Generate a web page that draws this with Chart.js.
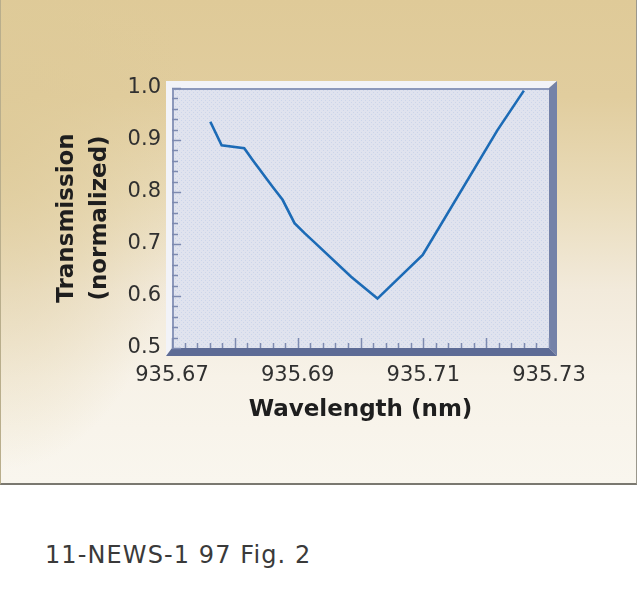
<!DOCTYPE html>
<html>
<head>
<meta charset="utf-8">
<script src="https://cdn.jsdelivr.net/npm/chart.js@4.4.0/dist/chart.umd.min.js"></script>
<style>
  body { margin: 0; background: #fff; width: 640px; height: 590px; overflow: hidden; }
  #panel {
    position: absolute; left: 0; top: 0; width: 635px; height: 483px;
    border-left: 1px solid #b9ae8c; border-right: 1px solid #9a978c; border-bottom: 2px solid #7a7870;
    background:
      radial-gradient(ellipse 190px 330px at 0px 140px, rgba(222,202,152,0.85) 0%, rgba(222,202,152,0.5) 45%, rgba(222,202,152,0) 100%),
      linear-gradient(to bottom, #dfca98 0%, #e1cd9e 20%, #e9dbb9 40%, #f2eadb 60%, #f7f2e8 78%, #f9f6ee 100%);
  }
  #caption {
    position: absolute; left: 45px; top: 541px;
    font: 24px "DejaVu Sans", sans-serif; color: #3a3a3a; letter-spacing: 1.1px;
  }
</style>
</head>
<body>
<div id="panel"><canvas id="chart_fig" width="635" height="483"></canvas></div>
<div id="caption">11-NEWS-1 97 Fig. 2</div>
<script>
const wavelength = [935.6761, 935.6779, 935.6815, 935.6828, 935.6860, 935.6876, 935.6895,
                    935.6911, 935.6926, 935.6985, 935.7027, 935.7099, 935.7218, 935.7260];
const transmission = [0.935, 0.890, 0.884, 0.862, 0.810, 0.785, 0.740,
                      0.721, 0.704, 0.637, 0.595, 0.679, 0.919, 0.995];
const xMin = 935.67, xMax = 935.73, xMajor = 0.02, xMinor = 0.002;
const yMin = 0.5, yMax = 1.0, yMajor = 0.1, yMinor = 0.02;

var points = [];
for (var i = 0; i < wavelength.length; i++) {
    points.push({x: wavelength[i], y: transmission[i]});
}

function isMajor(v, start, step) {
    var k = (v - start) / step;
    return Math.abs(k - Math.round(k)) < 1e-4;
}

// dotted fill for the plot box
var pat = document.createElement('canvas');
pat.width = 4; pat.height = 4;
var pc = pat.getContext('2d');
pc.fillStyle = '#e0e3ee';
pc.fillRect(0, 0, 4, 4);
pc.fillStyle = '#ccd5ea';
pc.fillRect(0, 0, 1, 1);
pc.fillRect(2, 2, 1, 1);

const framePlugin = {
    id: 'frame',
    beforeDatasetsDraw(chart) {
        const ctx = chart.ctx;
        const a = chart.chartArea;
        const L = a.left, R = a.right, T = a.top, B = a.bottom;
        ctx.save();
        ctx.fillStyle = ctx.createPattern(pat, 'repeat');
        ctx.fillRect(L, T, R - L, B - T);
        // light bevel top and left
        ctx.fillStyle = '#f2f3f8';
        ctx.beginPath();
        ctx.moveTo(L - 6, T - 7); ctx.lineTo(R + 8, T - 7); ctx.lineTo(R, T);
        ctx.lineTo(L, T); ctx.lineTo(L, B); ctx.lineTo(L - 6, B + 8);
        ctx.closePath(); ctx.fill();
        // dark right side
        ctx.fillStyle = '#7482a8';
        ctx.beginPath();
        ctx.moveTo(R, T); ctx.lineTo(R + 8, T - 7); ctx.lineTo(R + 8, B + 8); ctx.lineTo(R, B);
        ctx.closePath(); ctx.fill();
        // dark bottom
        ctx.fillStyle = '#5d6b95';
        ctx.beginPath();
        ctx.moveTo(L, B); ctx.lineTo(R, B); ctx.lineTo(R + 8, B + 8); ctx.lineTo(L - 6, B + 8);
        ctx.closePath(); ctx.fill();
        // inner edge lines
        ctx.strokeStyle = '#8c98bb';
        ctx.lineWidth = 2;
        ctx.beginPath();
        ctx.moveTo(L + 1, B); ctx.lineTo(L + 1, T + 1); ctx.lineTo(R, T + 1);
        ctx.stroke();
        // inward ticks from the scales
        ctx.strokeStyle = '#7d8ab0';
        ctx.lineWidth = 1.5;
        const xs = chart.scales.x, ys = chart.scales.y;
        xs.ticks.forEach(function(t) {
            var px = Math.round(xs.getPixelForValue(t.value)) + 0.5;
            var len = isMajor(t.value, xMin, 0.01) ? 10 : 5;
            ctx.beginPath(); ctx.moveTo(px, B); ctx.lineTo(px, B - len); ctx.stroke();
        });
        ys.ticks.forEach(function(t) {
            var py = Math.round(ys.getPixelForValue(t.value)) + 0.5;
            var len = isMajor(t.value, yMin, yMajor) ? 9 : 6;
            ctx.beginPath(); ctx.moveTo(L, py); ctx.lineTo(L + len, py); ctx.stroke();
        });
        ctx.restore();
    }
};

var ctx = document.getElementById('chart_fig').getContext('2d');
var myChart = new Chart(ctx, {
    type: 'scatter',
    data: {
        datasets: [{
            label: 'Transmission',
            data: points,
            showLine: true,
            borderColor: '#1c6bb6',
            borderWidth: 2.6,
            pointRadius: 0,
            tension: 0
        }]
    },
    options: {
        responsive: false,
        animation: false,
        layout: { padding: { top: 88, right: 87, bottom: 0, left: 0 } },
        plugins: { legend: { display: false }, tooltip: { enabled: false } },
        scales: {
            x: {
                type: 'linear',
                min: xMin, max: xMax,
                afterFit: function(s) { s.height = 483 - 348; },
                grid: { display: false, drawTicks: false },
                border: { display: false },
                ticks: {
                    stepSize: xMinor, autoSkip: false, maxRotation: 0, padding: 15,
                    color: '#303030', font: { family: 'DejaVu Sans', size: 21 },
                    callback: function(v) { return isMajor(v, xMin, xMajor) ? v.toFixed(2) : ''; }
                },
                title: {
                    display: true, text: 'Wavelength (nm)', color: '#1e1e1e',
                    font: { family: 'DejaVu Sans', size: 23, weight: 'bold' },
                    padding: { top: 0, bottom: 59 }
                }
            },
            y: {
                min: yMin, max: yMax,
                afterFit: function(s) { s.width = 171; },
                grid: { display: false, drawTicks: false },
                border: { display: false },
                ticks: {
                    stepSize: yMinor, autoSkip: false, padding: 11,
                    color: '#303030', font: { family: 'DejaVu Sans', size: 21 },
                    callback: function(v) { return isMajor(v, yMin, yMajor) ? v.toFixed(1) : ''; }
                },
                title: {
                    display: true, text: ['Transmission', '(normalized)'], color: '#1e1e1e',
                    font: { family: 'DejaVu Sans', size: 23, weight: 'bold', lineHeight: 1.43 },
                    padding: { top: 50, bottom: 0 }
                }
            }
        }
    },
    plugins: [framePlugin]
});
</script>
</body>
</html>
